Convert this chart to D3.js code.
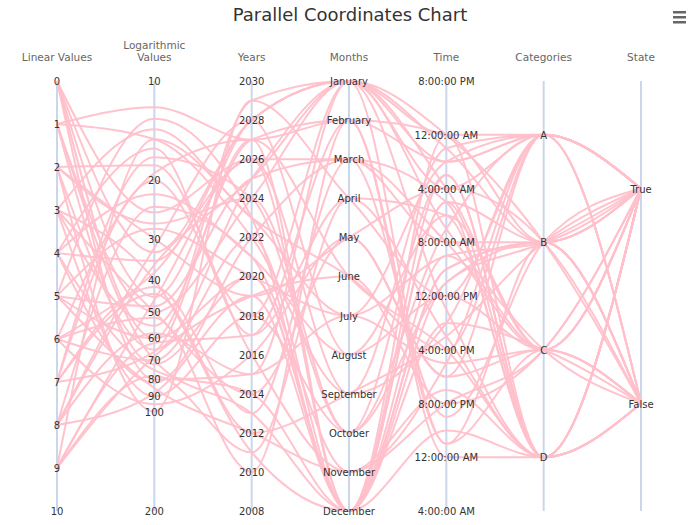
<!DOCTYPE html>
<html><head><meta charset="utf-8">
<script src="https://cdn.jsdelivr.net/npm/d3@7"></script>
<style>body{margin:0;background:#fff;font-family:"Lucida Grande","DejaVu Sans",Arial,sans-serif}</style>
</head><body><svg id="c" width="700" height="525"></svg>
<script>
const dimensions = ["Linear Values","Logarithmic Values","Years","Months","Time","Categories","State"];
const monthNames = ["January","February","March","April","May","June","July","August","September","October","November","December"];
const categoryNames = ["A","B","C","D"];
const stateNames = ["True","False"];
const timeTicks = ["8:00:00 PM","12:00:00 AM","4:00:00 AM","8:00:00 AM","12:00:00 PM","4:00:00 PM","8:00:00 PM","12:00:00 AM","4:00:00 AM"];
const yearTicks = [2030,2028,2026,2024,2022,2020,2018,2016,2014,2012,2010,2008];
const logTicks = [10,20,30,40,50,60,70,80,90,100,200];
// one entry per line
const linearValues = [0,0,0,0,1,1,1,1,2,2,2,2,3,3,3,3,4,4,4,4,5,5,5,5,5,6,6,6,6,7,7,7,7,8,8,8,8,9,9,9,9,0,1,2,3,4,6,7,8,9];
const logValues    = [45,60,25,80,12,15,50,70,30,100,18,65,40,14,90,55,22,75,35,16,48,85,28,60,13,95,38,52,70,20,66,17,42,88,32,58,24,78,46,15,62,33,72,27,50,82,19,44,36,68];
const yearValues   = [2028,2020,2026,2015,2027,2022,2024,2013,2019,2029,2016,2025,2011,2023,2018,2027,2021,2014,2028,2017,2025,2012,2020,2029,2023,2016,2026,2010,2022,2018,2027,2024,2013,2019,2028,2015,2021,2011,2026,2023,2017,2028,2020,2024,2014,2022,2027,2012,2025,2019];
const monthValues  = [0,11,2,6,1,8,0,11,4,3,10,0,11,5,9,1,7,11,0,3,2,10,6,0,11,4,8,1,11,0,5,9,2,11,7,0,10,3,11,6,1,0,11,9,4,2,11,8,0,5];
const timeValues   = [6,14,9,21,4,18,11,26,8,16,23,5,13,20,7,27,10,15,4,19,12,24,6,17,9,22,5,28,14,8,20,11,25,7,16,4,21,10,18,13,6,27,9,15,22,12,4,19,8,24];
const categoryValues = ["A","B","D","C","B","A","C","D","B","A","D","B","C","A","D","B","C","B","A","D","B","C","A","D","B","C","A","D","B","C","D","A","B","D","C","B","A","D","C","B","A","C","D","B","A","C","D","B","A","C"];
const stateValues  = ["True","False","True","False","True","True","False","True","False","True","False","True","True","False","True","False","True","True","False","True","False","True","True","False","True","False","True","True","False","True","False","True","True","False","True","False","True","True","False","True","True","False","True","False","True","True","False","True","False","True"];

const svg = d3.select("#c");
const yTop = 81, yBottom = 511;
const x = d3.scalePoint().domain(dimensions).range([57,641]);
const scales = {
  "Linear Values": d3.scaleLinear().domain([0,10]).range([yTop,yBottom]),
  "Logarithmic Values": d3.scaleLog().domain([10,200]).range([yTop,yBottom]),
  "Years": d3.scaleLinear().domain([2030,2008]).range([yTop,yBottom]),
  "Months": d3.scalePoint().domain(monthNames).range([yTop,yBottom]),
  "Time": d3.scaleLinear().domain([0,32]).range([yTop,yBottom]),
  "Categories": d3.scalePoint().domain(categoryNames).range([yTop,yBottom]).padding(0.5),
  "State": d3.scalePoint().domain(stateNames).range([yTop,yBottom]).padding(0.5)
};
const tickSets = {
  "Linear Values": d3.range(0,11).map(v=>[v,String(v)]),
  "Logarithmic Values": logTicks.map(v=>[v,String(v)]),
  "Years": yearTicks.map(v=>[v,String(v)]),
  "Months": monthNames.map(v=>[v,v]),
  "Time": timeTicks.map((t,i)=>[i*4,t]),
  "Categories": categoryNames.map(v=>[v,v]),
  "State": stateNames.map(v=>[v,v])
};
svg.append("text").attr("x",350).attr("y",21).attr("text-anchor","middle")
  .attr("font-size",18).attr("fill","#333").text("Parallel Coordinates Chart");
[0,5,10].forEach(d=>svg.append("rect").attr("x",673).attr("y",11+d).attr("width",13).attr("height",2.5).attr("fill","#666"));

dimensions.forEach(d=>{
  svg.append("line").attr("x1",x(d)).attr("x2",x(d)).attr("y1",yTop).attr("y2",yBottom)
    .attr("stroke","#ccd6eb").attr("stroke-width",2);
  const t = svg.append("text").attr("x",x(d)).attr("text-anchor","middle").attr("font-size",10.5).attr("fill","#666");
  if(d==="Logarithmic Values"){
    t.attr("y",49); t.append("tspan").attr("x",x(d)).text("Logarithmic");
    t.append("tspan").attr("x",x(d)).attr("dy",12).text("Values");
  } else t.attr("y",61).text(d);
});

const rows = linearValues.map((v,i)=>[v,logValues[i],yearValues[i],monthNames[monthValues[i]],timeValues[i],categoryValues[i],stateValues[i]]);
const line = d3.line().curve(d3.curveMonotoneX);
svg.append("g").selectAll("path").data(rows).join("path")
  .attr("d",r=>line(dimensions.map((d,j)=>[x(d),scales[d](r[j])])))
  .attr("fill","none").attr("stroke","#ffc0cb").attr("stroke-width",2).attr("opacity",0.95);

dimensions.forEach(d=>{
  svg.append("g").selectAll("text").data(tickSets[d]).join("text")
    .attr("x",x(d)).attr("y",t=>scales[d](t[0])+4).attr("text-anchor","middle")
    .attr("font-size",10).attr("fill","#333").text(t=>t[1]);
});
</script></body></html>
